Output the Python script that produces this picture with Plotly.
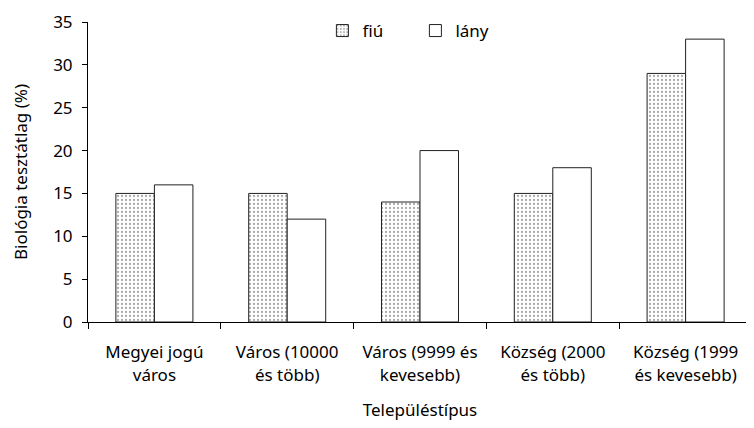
import plotly.graph_objects as go

categories = ["Megyei jogú<br>város", "Város (10000<br>és több)", "Város (9999 és<br>kevesebb)",
              "Község (2000<br>és több)", "Község (1999<br>és kevesebb)"]
fiu = [15, 15, 14, 15, 29]
lany = [16, 12, 20, 18, 33]
y_ticks = [0, 5, 10, 15, 20, 25, 30, 35]

FONT = "Noto Sans"
FS = 17

fig = go.Figure()
fig.add_trace(go.Bar(
    x=categories, y=fiu, name="fiú",
    marker=dict(color="white", line=dict(color="#222222", width=1),
                pattern=dict(shape=".", fgcolor="#555555", bgcolor="white", size=4, solidity=0.25)),
))
fig.add_trace(go.Bar(
    x=categories, y=lany, name="lány",
    marker=dict(color="white", line=dict(color="#222222", width=1)),
))

fig.update_layout(
    width=746, height=420,
    margin=dict(l=80, r=2, t=10, b=106),
    paper_bgcolor="white", plot_bgcolor="white",
    font=dict(family=FONT, size=FS, color="black"),
    barmode="group", bargap=0.42, bargroupgap=0,
    showlegend=True,
    legend=dict(orientation="h", x=0.353, xanchor="left", y=0.97, yanchor="middle",
                font=dict(size=FS), itemwidth=30, entrywidth=48,
                bgcolor="rgba(0,0,0,0)"),
    xaxis=dict(
        title=dict(text="Településtípus", font=dict(size=FS), standoff=19),
        showline=True, linecolor="black", linewidth=1,
        ticks="outside", tickson="boundaries", ticklen=6, tickcolor="black",
        showgrid=False, tickfont=dict(size=FS), ticklabelstandoff=15,
    ),
    yaxis=dict(
        title=dict(text="Biológia tesztátlag (%)", font=dict(size=FS), standoff=21),
        range=[0, 35], tickvals=y_ticks, ticktext=[str(v) for v in y_ticks],
        showline=True, linecolor="black", linewidth=1,
        ticks="outside", ticklen=5, tickcolor="black",
        showgrid=False, zeroline=False, tickfont=dict(size=FS), ticklabelstandoff=6,
        ticklabeloverflow="allow",
    ),
)

fig.write_html("out.html")
